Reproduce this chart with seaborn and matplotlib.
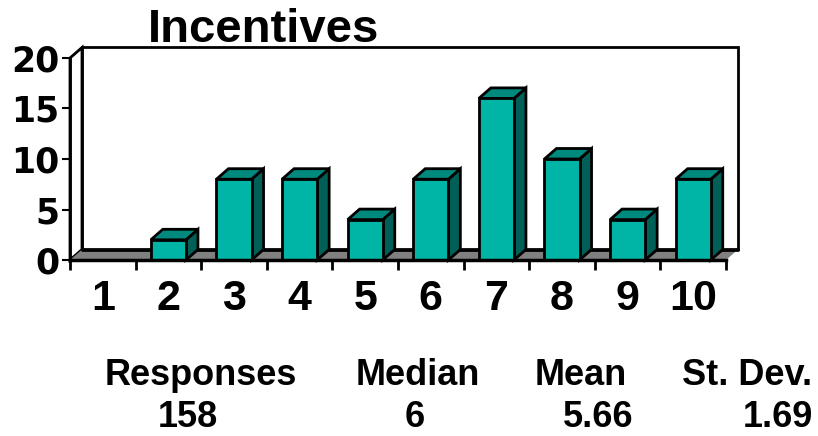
import numpy as np
import pandas as pd
import matplotlib
matplotlib.use("Agg")
import matplotlib.pyplot as plt
from matplotlib.patches import Polygon, Rectangle
from matplotlib.lines import Line2D
import seaborn as sns

# ---- data ----
scores = ["1", "2", "3", "4", "5", "6", "7", "8", "9", "10"]
counts = [0, 2, 8, 8, 4, 8, 16, 10, 4, 8]
y_ticks = [0, 5, 10, 15, 20]
stat_names = ["Responses", "Median", "Mean", "St. Dev."]
stat_values = ["158", "6", "5.66", "1.69"]
chart_title = "Incentives"

# ---- style ----
FRONT = "#00B4A6"
TOP = "#008A7E"
SIDE = "#005F57"
FLOOR = "#808080"

W, H = 818, 436
sns.set_theme(style="white")
plt.rcParams["font.family"] = ["Liberation Sans", "DejaVu Sans"]
plt.rcParams["text.color"] = "black"
plt.rcParams["xtick.color"] = "black"
plt.rcParams["ytick.color"] = "black"
plt.rcParams["xtick.labelcolor"] = "black"
plt.rcParams["ytick.labelcolor"] = "black"

fig = plt.figure(figsize=(W / 100, H / 100), dpi=100)
fig.patch.set_facecolor("white")

# front plane of the plot box in pixels
L, R, T, B = 70, 726, 58, 260
ax = fig.add_axes([L / W, 1 - B / H, (R - L) / W, (B - T) / H])
ax.set_facecolor("none")

df = pd.DataFrame({"score": scores, "count": counts})
sns.barplot(data=df, x="score", y="count", color=FRONT, saturation=1,
            width=0.535, edgecolor="black", linewidth=2, ax=ax, zorder=5)

xmin, xmax = -0.5, len(scores) - 0.5
ymax = 20
ax.set_xlim(xmin, xmax)
ax.set_ylim(0, ymax)

# 3-D depth offset expressed in data units
ddx = 12 / ((R - L) / len(scores))
ddy = 10.5 / ((B - T) / ymax)

# back wall, left wall and floor
ax.add_patch(Rectangle((xmin + ddx, ddy), xmax - xmin, ymax, facecolor="white",
                       edgecolor="black", lw=2, zorder=1, clip_on=False))
ax.add_patch(Polygon([(xmin, 0), (xmin + ddx, ddy), (xmin + ddx, ymax + ddy), (xmin, ymax)],
                     closed=True, facecolor="white", edgecolor="black", lw=2,
                     zorder=1, clip_on=False))
ax.add_patch(Polygon([(xmin, 0), (xmax, 0), (xmax + ddx, ddy), (xmin + ddx, ddy)],
                     closed=True, facecolor=FLOOR, edgecolor="none", zorder=2,
                     clip_on=False))
ax.add_line(Line2D([xmin + ddx, xmax + ddx], [ddy, ddy], color="black", lw=2,
                   zorder=2, clip_on=False))

# side and top faces of each bar
for bar in list(ax.patches):
    if not isinstance(bar, Rectangle) or bar.get_zorder() != 5:
        continue
    h = bar.get_height()
    if h <= 0:
        continue
    x0, w = bar.get_x(), bar.get_width()
    ax.add_patch(Polygon([(x0 + w, 0), (x0 + w + ddx, ddy), (x0 + w + ddx, h + ddy), (x0 + w, h)],
                         closed=True, facecolor=SIDE, edgecolor="black", lw=2,
                         joinstyle="miter", zorder=4, clip_on=False))
    ax.add_patch(Polygon([(x0, h), (x0 + ddx, h + ddy), (x0 + w + ddx, h + ddy), (x0 + w, h)],
                         closed=True, facecolor=TOP, edgecolor="black", lw=2,
                         joinstyle="miter", zorder=4, clip_on=False))

# spines
for s in ["top", "right"]:
    ax.spines[s].set_visible(False)
ax.spines["left"].set_color("black")
ax.spines["left"].set_linewidth(2)
ax.spines["left"].set_zorder(6)
ax.spines["bottom"].set_color("black")
ax.spines["bottom"].set_linewidth(2.5)
ax.spines["bottom"].set_zorder(6)

# y axis ticks
ax.set_yticks(y_ticks)
ax.set_yticklabels([str(v) for v in y_ticks], fontsize=25, fontweight="bold",
                   family="DejaVu Sans", color="black")
ax.tick_params(axis="y", which="major", direction="out", length=6, width=1.5,
               color="black", pad=1.5, left=True)

# x axis: tick marks between categories, labels at category centres
ax.set_xticks(np.arange(xmin, xmax + 0.01, 1.0))
ax.set_xticklabels([])
ax.set_xticks(np.arange(len(scores)), minor=True)
ax.set_xticklabels(scores, minor=True, fontsize=31, fontweight="bold", color="black")
ax.tick_params(axis="x", which="major", direction="out", length=7, width=2,
               color="black", bottom=True)
ax.tick_params(axis="x", which="minor", length=0, pad=14, bottom=True)
ax.set_xlabel("")
ax.set_ylabel("")

# title
fig.text(264 / W, 1 - 42 / H, chart_title, ha="center", va="baseline",
         fontsize=34, fontweight="bold", color="black")

# summary statistics
name_x = [105, 356, 535, 682]
value_x = [158, 405, 563, 743]
for nx, vx, name, val in zip(name_x, value_x, stat_names, stat_values):
    fig.text(nx / W, 1 - 385 / H, name, ha="left", va="baseline",
             fontsize=26, fontweight="bold", color="black")
    fig.text(vx / W, 1 - 427 / H, val, ha="left", va="baseline",
             fontsize=26, fontweight="bold", color="black")

fig.savefig("out.png", dpi=100, facecolor="white")
